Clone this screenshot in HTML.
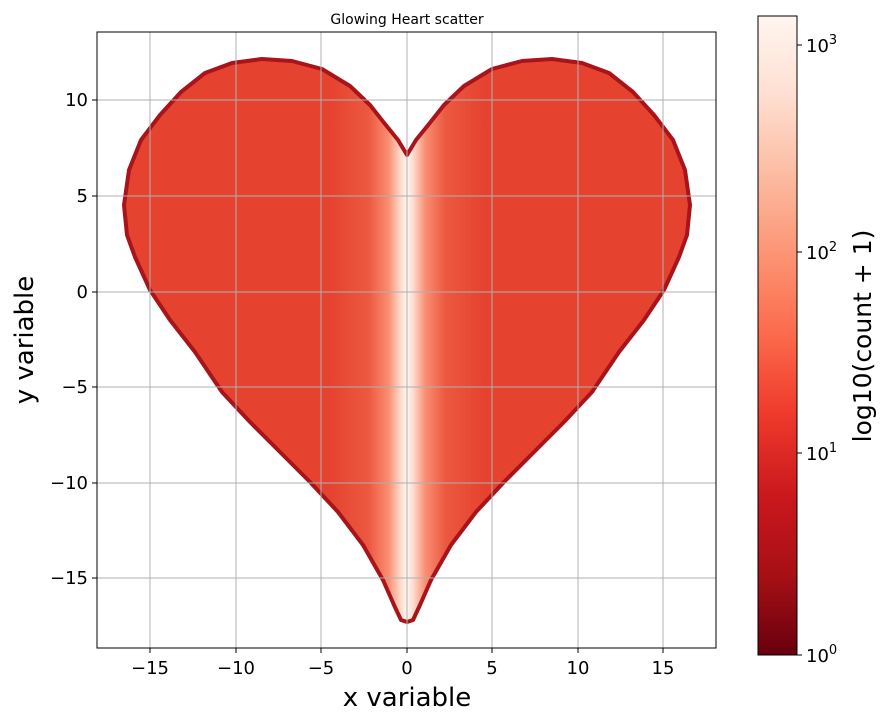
<!DOCTYPE html>
<html><head><meta charset="utf-8"><style>
body{margin:0;background:#fff;}
svg text{font-family:"DejaVu Sans","Liberation Sans",sans-serif;fill:#000;}
</style></head><body>
<svg id="s" width="887" height="721" viewBox="0 0 887 721" xmlns="http://www.w3.org/2000/svg">
<defs>
<linearGradient id="hg" gradientUnits="userSpaceOnUse" x1="330" y1="0" x2="484" y2="0">
<stop offset="0" stop-color="#e5432f"/>
<stop offset="0.25" stop-color="#ec5840"/>
<stop offset="0.38" stop-color="#f98e71"/>
<stop offset="0.46" stop-color="#fedcce"/>
<stop offset="0.5" stop-color="#fff6f2"/>
<stop offset="0.54" stop-color="#fedcce"/>
<stop offset="0.62" stop-color="#f98e71"/>
<stop offset="0.75" stop-color="#ec5840"/>
<stop offset="1" stop-color="#e5432f"/>
</linearGradient>
<linearGradient id="cb" x1="0" y1="1" x2="0" y2="0">
<stop offset="0" stop-color="#67000d"/>
<stop offset="0.12" stop-color="#a50f15"/>
<stop offset="0.25" stop-color="#cb181d"/>
<stop offset="0.38" stop-color="#ef3b2c"/>
<stop offset="0.5" stop-color="#fb6a4a"/>
<stop offset="0.62" stop-color="#fc9272"/>
<stop offset="0.75" stop-color="#fcbba1"/>
<stop offset="0.88" stop-color="#fee0d2"/>
<stop offset="1" stop-color="#fff5f0"/>
</linearGradient>
<clipPath id="ax"><rect x="97" y="32" width="619" height="616"/></clipPath>
</defs>
<rect x="97" y="32" width="619" height="616" fill="#fff"/>
<g clip-path="url(#ax)">
<path id="heart" fill="url(#hg)" stroke="#a8141a" stroke-width="4" stroke-linejoin="round"/>
<g stroke="#b0b0b0" stroke-width="1">
<line x1="150" y1="32" x2="150" y2="648"/><line x1="236" y1="32" x2="236" y2="648"/>
<line x1="321" y1="32" x2="321" y2="648"/><line x1="407" y1="32" x2="407" y2="648"/>
<line x1="492" y1="32" x2="492" y2="648"/><line x1="578" y1="32" x2="578" y2="648"/>
<line x1="663" y1="32" x2="663" y2="648"/>
<line x1="97" y1="100" x2="716" y2="100"/><line x1="97" y1="196" x2="716" y2="196"/>
<line x1="97" y1="292" x2="716" y2="292"/><line x1="97" y1="387" x2="716" y2="387"/>
<line x1="97" y1="483" x2="716" y2="483"/><line x1="97" y1="578" x2="716" y2="578"/>
</g>
</g>
<rect x="97" y="32" width="619" height="616" fill="none" stroke="#000" stroke-width="1"/>
<g stroke="#000" stroke-width="1">
<line x1="150" y1="648" x2="150" y2="653"/><line x1="236" y1="648" x2="236" y2="653"/>
<line x1="321" y1="648" x2="321" y2="653"/><line x1="407" y1="648" x2="407" y2="653"/>
<line x1="492" y1="648" x2="492" y2="653"/><line x1="578" y1="648" x2="578" y2="653"/>
<line x1="663" y1="648" x2="663" y2="653"/>
<line x1="92" y1="100" x2="97" y2="100"/><line x1="92" y1="196" x2="97" y2="196"/>
<line x1="92" y1="292" x2="97" y2="292"/><line x1="92" y1="387" x2="97" y2="387"/>
<line x1="92" y1="483" x2="97" y2="483"/><line x1="92" y1="578" x2="97" y2="578"/>
</g>
<g font-size="18" text-anchor="middle">
<text x="150" y="674">−15</text><text x="236" y="674">−10</text><text x="321" y="674">−5</text>
<text x="407" y="674">0</text><text x="492" y="674">5</text><text x="578" y="674">10</text><text x="663" y="674">15</text>
</g>
<g font-size="18" text-anchor="end">
<text x="88" y="106">10</text><text x="88" y="202">5</text><text x="88" y="298">0</text>
<text x="88" y="393">−5</text><text x="88" y="489">−10</text><text x="88" y="584">−15</text>
</g>
<text x="407" y="706" font-size="26" text-anchor="middle">x variable</text>
<text transform="translate(33,340) rotate(-90)" font-size="26" text-anchor="middle">y variable</text>
<text x="407" y="24" font-size="14" text-anchor="middle">Glowing Heart scatter</text>
<rect x="758" y="16" width="39" height="639" fill="url(#cb)" stroke="#000" stroke-width="1"/>
<g stroke="#000" stroke-width="1">
<line x1="797" y1="655" x2="802" y2="655"/><line x1="797" y1="453" x2="802" y2="453"/>
<line x1="797" y1="252" x2="802" y2="252"/><line x1="797" y1="45" x2="802" y2="45"/>
</g>
<g font-size="18">
<text x="806" y="662">10<tspan dy="-8" font-size="13">0</tspan></text>
<text x="806" y="460">10<tspan dy="-8" font-size="13">1</tspan></text>
<text x="806" y="259">10<tspan dy="-8" font-size="13">2</tspan></text>
<text x="806" y="52">10<tspan dy="-8" font-size="13">3</tspan></text>
</g>
<text transform="translate(871,336) rotate(-90)" font-size="25" text-anchor="middle">log10(count + 1)</text>
</svg>
<script>
var L=[[407,155],[398,140],[385,124],[370,105],[350,86],[322,69],[292,61],[262,59],[232,63],[205,73],[181,92],[160,115],[141,140],[129,170],[124,205],[127,235],[135,257],[150,290],[170,320],[195,352],[222,392],[250,422],[280,452],[310,482],[338,512],[363,545],[383,580],[394,605],[401,620],[407,622]];
var pts=L.slice();
for(var i=L.length-2;i>=1;i--){pts.push([814-L[i][0],L[i][1]]);}
var d="";
for(var i=0;i<pts.length;i++){d+=(i?"L":"M")+pts[i][0]+","+pts[i][1];}
document.getElementById("heart").setAttribute("d",d+"Z");
</script>
</body></html>
